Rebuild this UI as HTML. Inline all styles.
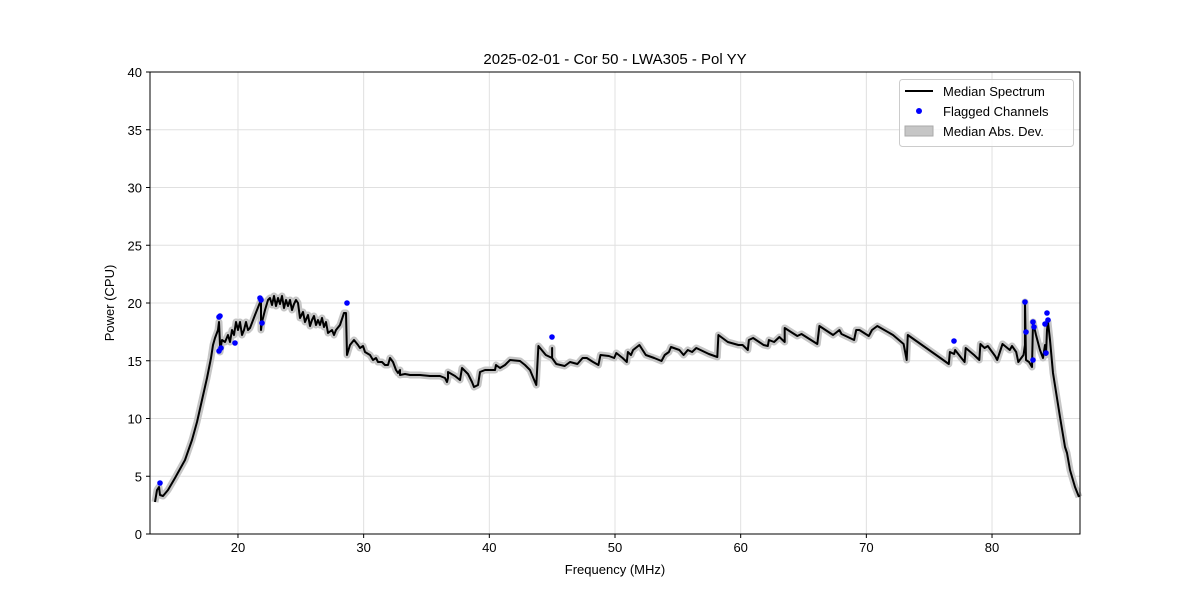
<!DOCTYPE html>
<html><head><meta charset="utf-8"><style>body{margin:0;background:#fff}svg{display:block;font-family:"Liberation Sans","DejaVu Sans",sans-serif}</style></head>
<body>
<svg id="s" width="1200" height="600" xmlns="http://www.w3.org/2000/svg">
<rect width="1200" height="600" fill="#fff"/>
<g id="grid" stroke="#e0e0e0" stroke-width="1"></g>
<polyline id="band" fill="none" stroke="#c6c6c6" stroke-width="7" stroke-linejoin="round"/>
<polyline id="line" fill="none" stroke="#000" stroke-width="2" stroke-linejoin="round"/>
<g id="dots" fill="#0000ff"></g>
<rect x="150" y="72" width="930" height="462" fill="none" stroke="#000" stroke-width="1"/>
<g id="ticks" font-size="13" fill="#000"></g>
<text x="615" y="64" text-anchor="middle" font-size="15">2025-02-01 - Cor 50 - LWA305 - Pol YY</text>
<text x="615" y="574" text-anchor="middle" font-size="13">Frequency (MHz)</text>
<text transform="translate(114,303) rotate(-90)" text-anchor="middle" font-size="13">Power (CPU)</text>
<g>
<rect x="899.5" y="79.5" width="174" height="67" rx="3" fill="#fff" fill-opacity="0.8" stroke="#ccc"/>
<line x1="905" y1="91" x2="933" y2="91" stroke="#000" stroke-width="2"/>
<circle cx="919" cy="111" r="3" fill="#0000ff"/>
<rect x="905" y="126" width="28" height="10" fill="#c6c6c6" stroke="#aaa"/>
<text x="943" y="96" font-size="13">Median Spectrum</text>
<text x="943" y="116" font-size="13">Flagged Channels</text>
<text x="943" y="136" font-size="13">Median Abs. Dev.</text>
</g>
</svg>
<script>
var NS="http://www.w3.org/2000/svg";
function X(f){return 150+(f-13)*930/74}
function Y(v){return 534-v*462/40}
var g=document.getElementById('grid'),t=document.getElementById('ticks');
for(var f=20;f<=80;f+=10){var x=X(f);var l=document.createElementNS(NS,'line');l.setAttribute('x1',x);l.setAttribute('x2',x);l.setAttribute('y1',72);l.setAttribute('y2',534);g.appendChild(l);
var tk=document.createElementNS(NS,'line');tk.setAttribute('x1',x);tk.setAttribute('x2',x);tk.setAttribute('y1',534);tk.setAttribute('y2',538);tk.setAttribute('stroke','#000');t.appendChild(tk);
var tx=document.createElementNS(NS,'text');tx.setAttribute('x',x);tx.setAttribute('y',552);tx.setAttribute('text-anchor','middle');tx.textContent=f;t.appendChild(tx);}
for(var v=0;v<=40;v+=5){var y=Y(v);var l=document.createElementNS(NS,'line');l.setAttribute('x1',150);l.setAttribute('x2',1080);l.setAttribute('y1',y);l.setAttribute('y2',y);g.appendChild(l);
var tk=document.createElementNS(NS,'line');tk.setAttribute('x1',146);tk.setAttribute('x2',150);tk.setAttribute('y1',y);tk.setAttribute('y2',y);tk.setAttribute('stroke','#000');t.appendChild(tk);
var tx=document.createElementNS(NS,'text');tx.setAttribute('x',142);tx.setAttribute('y',y+5);tx.setAttribute('text-anchor','end');tx.textContent=v;t.appendChild(tx);}
var a=[155,502,157,490,159,487,160,495,163,496,168,490,175,478,185,460,192,440,197,422,202,400,207,378,211,358,213,345,215,338,218,330,219,322,220,345,220,352,222,340,225,342,228,335,230,342,232,330,234,335,236,322,238,330,240,322,242,335,244,330,246,322,248,330,250,328,255,315,259,305,261,300,261,330,262,322,265,310,268,300,270,298,272,305,274,296,276,306,278,298,280,304,282,296,284,308,286,300,288,306,290,300,292,310,294,304,296,300,298,303,300,318,303,312,305,322,308,315,310,326,312,320,314,316,316,325,318,320,320,325,322,318,324,327,326,322,328,333,332,330,334,335,336,330,340,325,344,313,346,313,347,355,350,345,354,340,358,345,360,348,363,346,365,352,370,355,373,360,376,358,378,362,382,362,385,365,388,365,390,358,393,362,396,370,398,373,400,370,400,375,405,374,410,375,420,375,430,376,440,376,445,378,447,382,448,378,448,372,455,376,460,380,462,368,468,374,472,382,474,387,478,385,480,372,485,370,495,370,496,365,500,368,505,365,510,360,520,361,525,365,530,370];
var b=[536,385,538,346,545,355,551,358,551,348,551,358,555,364,563,366,568,362,575,364,580,358,584,358,590,362,595,365,597,355,605,356,610,358,612,353,618,358,622,362,623,352,626,355,628,350,634,345,640,355,648,358,655,361,658,355,662,352,664,347,672,350,676,355,680,350,684,352,688,348,700,354,708,357,709,335,718,342,728,345,732,345,737,350,738,340,742,338,752,345,756,346,757,340,762,342,767,337,772,342,772,328,784,336,788,334,803,344,805,326,818,335,824,330,826,334,838,340,840,330,843,330,852,336,855,330,860,326,875,335,885,344,888,360,889,335,920,358,928,364,929,352,933,354,934,350,940,358,943,362,944,348,952,355,957,360,958,344,962,348,965,346,972,356,974,360,979,344,986,350,988,346,992,352,994,362,999,355];
var pts=[];for(var i=0;i<a.length;i+=2)pts.push(a[i]+','+a[i+1]);
for(var i=0;i<b.length;i+=2)pts.push((530+(b[i]-530)*1.0523).toFixed(1)+','+b[i+1]);
pts.push('1025,345','1025,302','1026,360','1029,362','1032,367','1033,322','1036,335','1040,350','1043,358','1045,345','1046,355','1047,330','1048,322','1050,340','1053,373','1060,417','1065,447','1067,453','1070,470','1075,487','1079,497');
var s=pts.join(' ');document.getElementById('line').setAttribute('points',s);document.getElementById('band').setAttribute('points',s);
var d=[160,483,219,317,220,316,219,351,221,348,235,343,260,298,261,300,262,323,347,303,552,337,954,341,1025,302,1026,332,1033,322,1034,327,1033,360,1046,353,1045,324,1047,313,1048,320];
var dg=document.getElementById('dots');for(var i=0;i<d.length;i+=2){var c=document.createElementNS(NS,'circle');c.setAttribute('cx',d[i]);c.setAttribute('cy',d[i+1]);c.setAttribute('r',2.8);dg.appendChild(c);}
</script>
</body></html>
